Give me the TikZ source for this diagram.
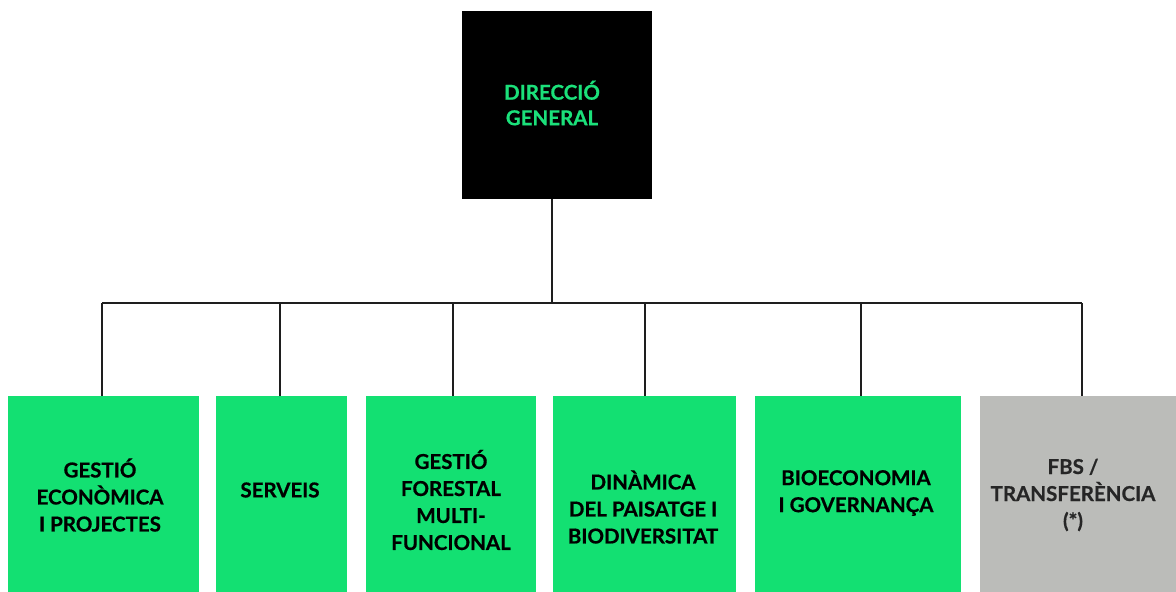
\documentclass[tikz,border=0pt]{standalone}
\usepackage{fontspec}
\setmainfont{Lato}[BoldFeatures={FakeBold=0.6}]
\definecolor{cgreen}{RGB}{19,224,114}
\definecolor{cgreentxt}{RGB}{27,224,122}
\definecolor{cgray}{RGB}{187,188,185}
\definecolor{cline}{RGB}{30,30,30}
\begin{document}
\begin{tikzpicture}[x=1pt,y=-1pt,
  unitbox/.style={rectangle, inner sep=0pt, outer sep=0pt, draw=none},
  lbl/.style={align=center, inner sep=0pt, font=\bfseries\fontsize{20.5}{27}\selectfont},
  conn/.style={draw=cline, line width=1.5pt}]
\useasboundingbox[fill=white] (0,0) rectangle (1176,592);
% top box
\node[unitbox, fill=black, minimum width=190pt, minimum height=188pt] (top) at (557,105) {};
\node[lbl, text=cgreentxt, font=\bfseries\fontsize{20.5}{25.5}\selectfont] (toptxt) at (552,103) {DIRECCIÓ\\GENERAL};
% bottom boxes
\node[unitbox, fill=cgreen, minimum width=191pt, minimum height=198pt] (b1) at (103.5,495) {};
\node[unitbox, fill=cgreen, minimum width=131pt, minimum height=198pt] (b2) at (281.5,495) {};
\node[unitbox, fill=cgreen, minimum width=170pt, minimum height=198pt] (b3) at (451,495) {};
\node[unitbox, fill=cgreen, minimum width=183pt, minimum height=198pt] (b4) at (644.5,495) {};
\node[unitbox, fill=cgreen, minimum width=206pt, minimum height=198pt] (b5) at (858,495) {};
\node[unitbox, fill=cgray, minimum width=200pt, minimum height=198pt] (b6) at (1080,495) {};
% labels
\node[lbl] (t1) at (100,495) {GESTIÓ\\ECONÒMICA\\I PROJECTES};
\node[lbl] (t2) at (280,490) {SERVEIS};
\node[lbl] (t3) at (451,500) {GESTIÓ\\FORESTAL\\MULTI-\\FUNCIONAL};
\node[lbl] (t4) at (643,507) {DINÀMICA\\DEL PAISATGE I\\BIODIVERSITAT};
\node[lbl] (t5) at (856,493) {BIOECONOMIA\\I GOVERNANÇA};
\node[lbl, text=black!85] (t6) at (1073,495) {FBS /\\TRANSFERÈNCIA\\(*)};
% connectors
\coordinate (j1) at (102,303);
\coordinate (j2) at (280,303);
\coordinate (j3) at (453,303);
\coordinate (j4) at (645,303);
\coordinate (j5) at (861,303);
\coordinate (j6) at (1082,303);
\coordinate (jt) at (552,303);
\draw[conn] (j1) -- (j6);
\draw[conn] (jt |- top.south) -- (jt);
\draw[conn] (j1) -- (j1 |- b1.north);
\draw[conn] (j2) -- (j2 |- b2.north);
\draw[conn] (j3) -- (j3 |- b3.north);
\draw[conn] (j4) -- (j4 |- b4.north);
\draw[conn] (j5) -- (j5 |- b5.north);
\draw[conn] (j6) -- (j6 |- b6.north);
\end{tikzpicture}
\end{document}
